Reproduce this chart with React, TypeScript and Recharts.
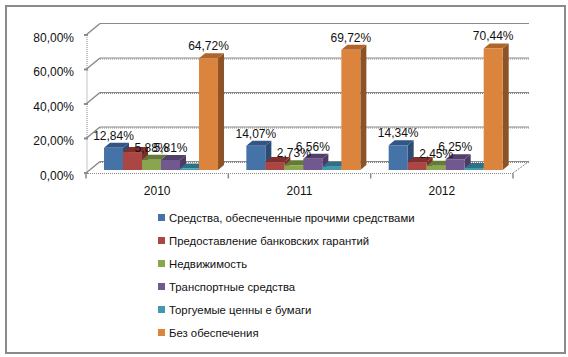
import React from 'react';
import { BarChart, Bar, XAxis, YAxis, CartesianGrid, LabelList } from 'recharts';

const years = ['2010', '2011', '2012'];
const secured = [12.84, 14.07, 14.34];
const guarantees = [10.4, 4.6, 4.6];
const realEstate = [5.88, 2.73, 2.45];
const vehicles = [5.81, 6.56, 6.25];
const securities = [0.9, 1.9, 1.2];
const unsecured = [64.72, 69.72, 70.44];
const yTicks = [0, 20, 40, 60, 80];

const names = [
  'Средства, обеспеченные прочими средствами',
  'Предоставление банковских гарантий',
  'Недвижимость',
  'Транспортные средства',
  'Торгуемые ценны е бумаги',
  'Без обеспечения',
];
const front = ['#4572A7', '#AA4643', '#89A54E', '#71588F', '#4198AF', '#DB843D'];
const top = ['#315584', '#7F2F2D', '#647A36', '#523F6C', '#2E7185', '#B0662A'];
const side = ['#2C4C76', '#7A2E2C', '#5F7433', '#4D3B66', '#2B6A7D', '#8C5426'];
const labelled = [true, false, true, true, false, true];

const series = [secured, guarantees, realEstate, vehicles, securities, unsecured];
const rows = years.map((year, i) => {
  const row: Record<string, any> = { year };
  series.forEach((s, k) => (row['s' + k] = s[i]));
  return row;
});

const FONT = '"Liberation Sans", Arial, sans-serif';
const DX = 6;
const DY = 5;
const GREY = '#8a8a8a';
// the 3D look: front axis sits left and below the bars' own scale
const AXIS_SHIFT_X = -4.5;
const AXIS_SHIFT_Y = 3;
const BAND = 142.33;
const STEP = 34.5;

const Bar3D = (colorIndex: number) => (props: any) => {
  const { x, y, width, height } = props;
  return (
    <g>
      <path d={`M${x + width} ${y}l${DX} ${-DY}v${height}l${-DX} ${DY}z`} fill={side[colorIndex]} />
      <path d={`M${x} ${y}l${DX} ${-DY}h${width}l${-DX} ${DY}z`} fill={top[colorIndex]} />
      <rect x={x} y={y} width={width} height={height} fill={front[colorIndex]} />
    </g>
  );
};

const GridLine = (props: any) => {
  const { x1, x2, y1, index } = props;
  const fx = x1 + AXIS_SHIFT_X;
  const fy = y1 + AXIS_SHIFT_Y;
  const endX = x2 + 11.5;
  const isFloor = y1 > 160;
  const isTop = y1 < 40;
  return (
    <g key={index} stroke={GREY} strokeWidth={1} fill="none">
      <path d={`M${fx} ${fy}L${fx + 14} ${fy - 11.5}`} strokeWidth={1.5} />
      <path d={`M${fx + 14} ${fy - 11.5}L${endX} ${fy - 11.5}`} />
      {!isTop && <path d={`M${fx + 14} ${fy - 10.5}L${endX} ${fy - 10.5}`} strokeDasharray="1 1" />}
      {isFloor && (
        <g>
          <path d={`M${fx} ${fy + 0.5}L${x2 + AXIS_SHIFT_X} ${fy + 0.5}`} strokeDasharray="1 1" />
          <path d={`M${x2 + AXIS_SHIFT_X} ${fy}L${endX} ${fy - 11.5}`} strokeDasharray="2 1" />
        </g>
      )}
    </g>
  );
};

const YTick = (props: any) => {
  const { x, y, payload } = props;
  const fx = x + 1 + AXIS_SHIFT_X;
  const fy = y + AXIS_SHIFT_Y;
  return (
    <g>
      <line x1={fx - 3} x2={fx + 1} y1={fy} y2={fy} stroke={GREY} strokeWidth={2} />
      {payload.value > 0 && (
        <line x1={fx} x2={fx} y1={fy} y2={fy + STEP} stroke={GREY} strokeDasharray="1 1" />
      )}
      <text x={fx - 13} y={fy + 6.5} textAnchor="end" fontSize={12} fontFamily={FONT} fill="#111">
        {payload.value.toFixed(2).replace('.', ',') + '%'}
      </text>
    </g>
  );
};

const XTick = (props: any) => {
  const { x, payload, index } = props;
  const axisY = 173.5;
  const cx = x + AXIS_SHIFT_X;
  const right = cx + BAND / 2;
  return (
    <g>
      <line x1={right} x2={right} y1={axisY} y2={axisY + 5} stroke={GREY} strokeWidth={1.5} />
      {index === 0 && <line x1={right - BAND} x2={right - BAND} y1={axisY} y2={axisY + 5} stroke={GREY} strokeWidth={1.5} />}
      <text x={cx} y={195} textAnchor="middle" fontSize={12} fontFamily={FONT} fill="#111">
        {payload.value}
      </text>
    </g>
  );
};

const pct = (v: any) => Number(v).toFixed(2).replace('.', ',') + '%';

const Legend6 = () => (
  <div style={{ position: 'absolute', left: 158, top: 206, fontFamily: FONT, fontSize: 11.35, color: '#111' }}>
    {names.map((name, i) => (
      <div key={name} style={{ height: 23, display: 'flex', alignItems: 'center', whiteSpace: 'nowrap' }}>
        <span style={{ width: 7, height: 7, background: front[i], marginRight: 4, display: 'inline-block' }} />
        {name}
      </div>
    ))}
  </div>
);

export default function App() {
  return (
    <div style={{ position: 'absolute', left: 0, top: 0, width: 568, height: 357, background: '#fff', overflow: 'hidden' }}>
      <div style={{ position: 'absolute', left: 5, top: 5, width: 557, height: 345, border: '2px solid #8a8a8a', boxSizing: 'content-box' }} />
      <div style={{ position: 'absolute', left: 0, top: 0 }}>
        <BarChart
          width={568}
          height={357}
          data={rows}
          margin={{ left: 89.5, right: 50.5, top: 32, bottom: 157 }}
          barCategoryGap="9.5%"
          barGap={0}
          style={{ overflow: 'visible' }}
        >
          <CartesianGrid vertical={false} horizontal={GridLine as any} />
          <XAxis
            dataKey="year"
            axisLine={false}
            tickLine={false}
            tick={XTick as any}
            height={30}
            interval={0}
          />
          <YAxis
            domain={[0, 80]}
            ticks={yTicks}
            width={1}
            axisLine={false}
            tickLine={false}
            tickMargin={0}
            tickSize={0}
            tick={YTick as any}
          />
          {series.map((_, k) => (
            <Bar key={k} dataKey={'s' + k} shape={Bar3D(k) as any} isAnimationActive={false}>
              {labelled[k] && (
                <LabelList
                  dataKey={'s' + k}
                  position="top"
                  offset={8}
                  formatter={pct}
                  style={{ fontFamily: FONT, fontSize: 12, fill: '#111' }}
                />
              )}
            </Bar>
          ))}
        </BarChart>
      </div>
      <Legend6 />
    </div>
  );
}
